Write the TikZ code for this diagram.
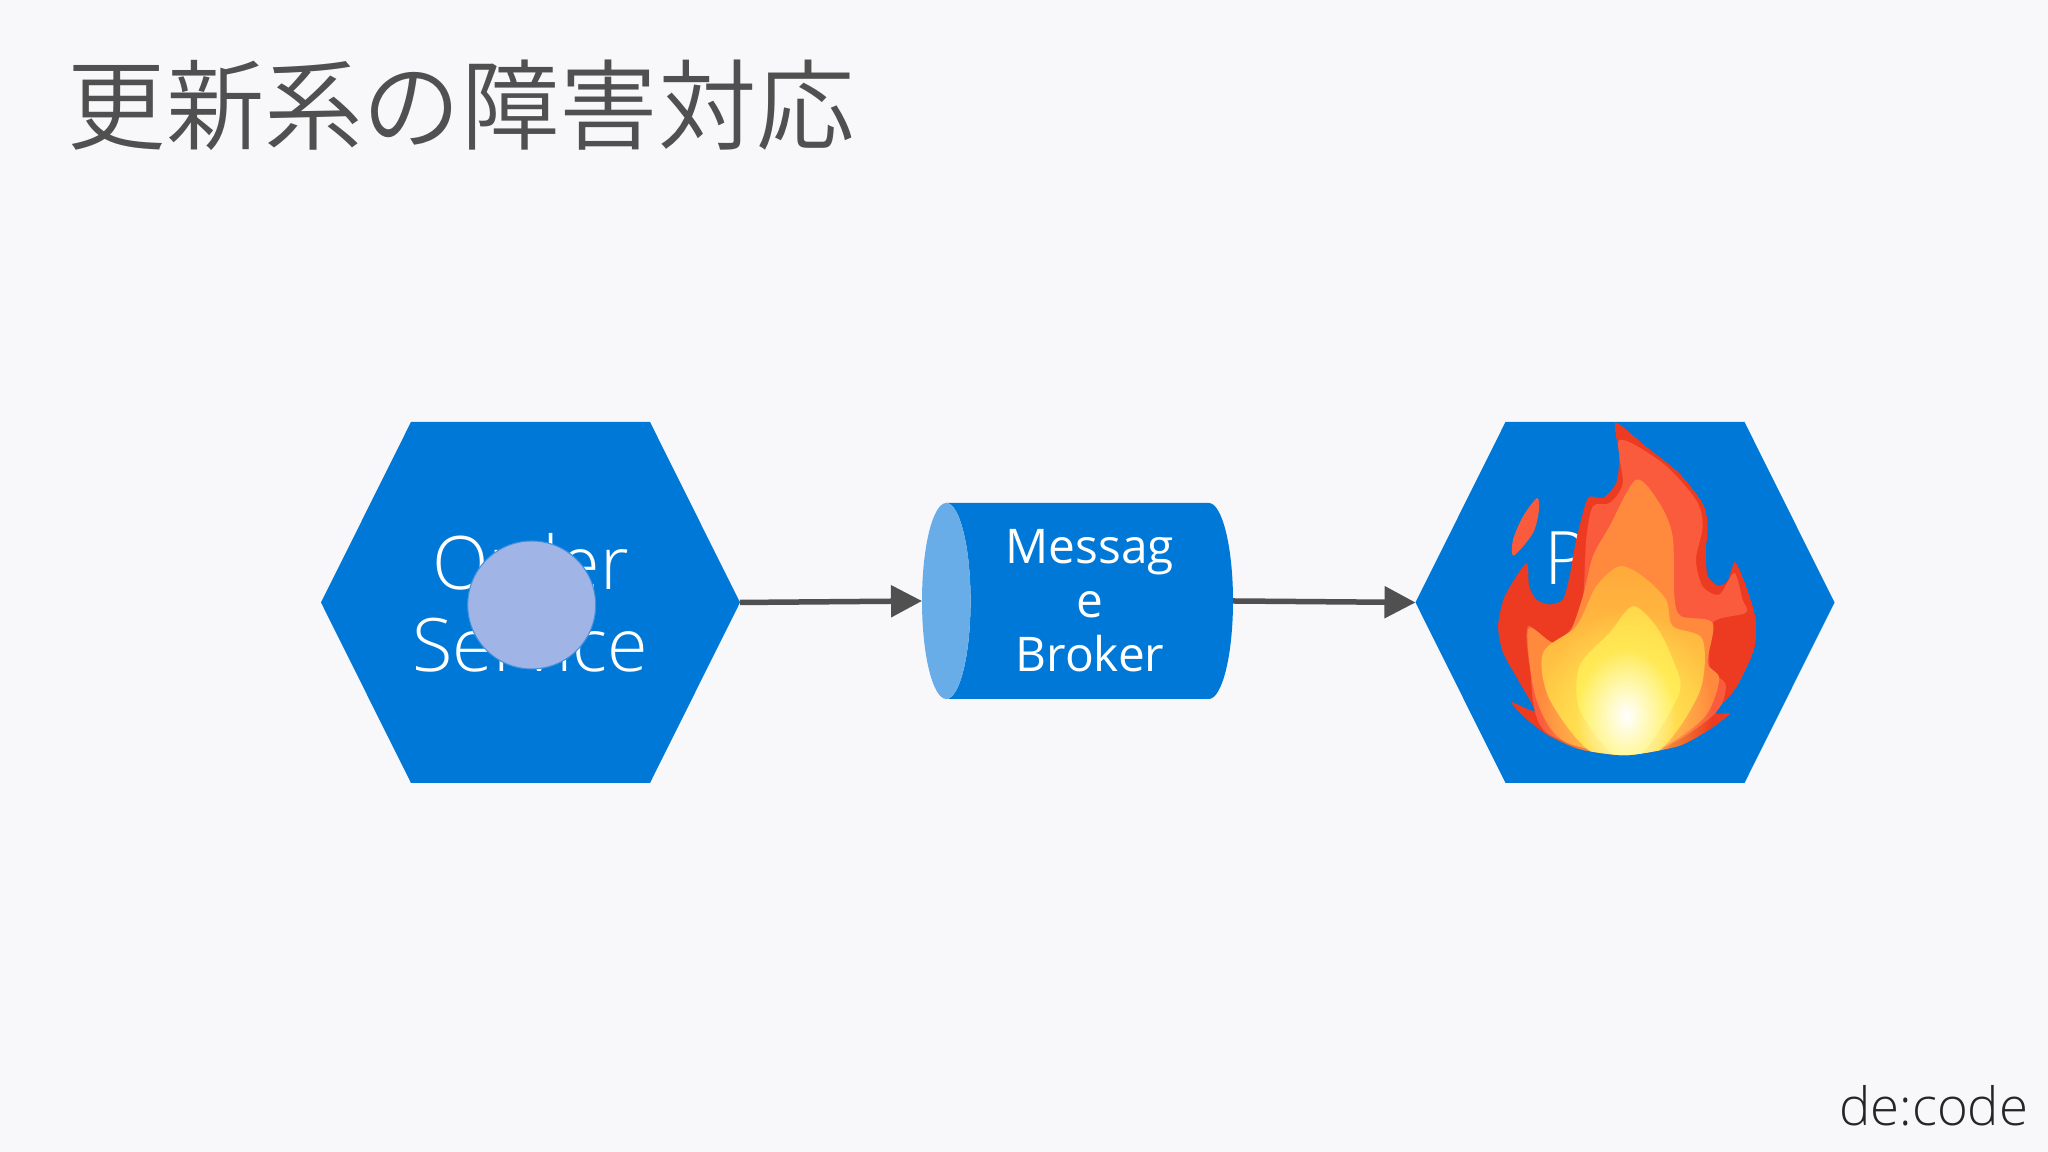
\documentclass[tikz,border=0pt]{standalone}
\usepackage{xcolor}
\usepackage{fontspec}
\usepackage{tikz}
\usetikzlibrary{shapes.geometric,shapes.symbols,arrows.meta,fadings}
\setmainfont{Open Sans Light}
\newfontfamily\opensans{Open Sans}
\newfontfamily\cjk{Noto Sans CJK JP DemiLight}
\definecolor{slide}{HTML}{F8F8FA}
\definecolor{azure}{HTML}{0078D7}
\definecolor{azurelight}{HTML}{69ADE8}
\definecolor{dot}{HTML}{A0B5E6}
\definecolor{ink}{HTML}{505050}
\definecolor{firebase}{HTML}{EC3B20}
\definecolor{firered}{HTML}{FA5B3D}
\definecolor{fireorange}{HTML}{FF8A3E}
\definecolor{fireamber}{HTML}{FFA93B}
\definecolor{fireyellow}{HTML}{FFD84A}
\definecolor{fireglow}{HTML}{FFF45C}
\tikzfading[name=glow, inner color=transparent!0, outer color=transparent!100]
\newcommand{\flameoutline}{plot[smooth cycle,tension=.4] coordinates {(708,68) (800,140) (900,220) (970,310) (985,370) (980,470) (985,530) (1015,558) (1045,545) (1068,487) (1105,570) (1130,660) (1125,750) (1075,860) (1010,940) (1052,942) (1000,985) (900,1040) (740,1068) (600,1050) (500,1005) (430,950) (395,908) (465,935) (420,850) (370,760) (355,680) (375,590) (440,490) (448,560) (470,600) (510,615) (550,600) (570,530) (590,420) (625,295) (670,295) (710,250) (720,170)}}

\begin{document}
\begin{tikzpicture}[
    hexbox/.style={signal, signal to=west and east, signal pointer angle=127, fill=azure, text=white, minimum width=4.19cm, minimum height=3.61cm, inner sep=0pt, outer sep=0pt, align=center, font=\fontsize{21}{23.3}\selectfont},
    broker/.style={cylinder, shape border rotate=180, cylinder uses custom fill, cylinder body fill=azure, cylinder end fill=azurelight, aspect=.34, minimum height=3.11cm, minimum width=1.96cm, inner sep=0pt, outer sep=0pt, text=white, align=center, font=\opensans\fontsize{13.6}{15.4}\selectfont},
    arrow/.style={-{Triangle[length=.31cm,width=.31cm]}, ink, line width=.055cm}
]
\useasboundingbox (0,0) rectangle (20.48,11.52);
\fill[slide] (0,0) rectangle (20.48,11.52);

% Title
\node[anchor=base west, inner sep=0pt, text=ink, font=\cjk\fontsize{28}{30}\selectfont] (title) at (.67,10.09) {更新系の障害対応};

% Services
\node[hexbox] (order) at (5.305,5.495) {Order\\Service};
\node[hexbox] (payment) at (16.25,5.495) {};
\node[anchor=base west, inner sep=0pt, text=white, font=\fontsize{21}{23.3}\selectfont] (plabel) at (15.44,5.67) {P};
\node[circle, fill=dot, draw=azure!60!dot, line width=.3pt, minimum size=1.28cm, inner sep=0pt] (token) at (5.317,5.47) {};

% Queue
\node[broker] (queue) at (10.90,5.51) {Messag\\e\\Broker};

% Arrows
\draw[arrow] (order.east) -- (queue.west);
\draw[arrow] (queue.east) -- (payment.west);

% Fire
\begin{scope}[shift={(13.8,7.52)}, x=.003333cm, y=-.003333cm]
\fill[firered] plot[smooth cycle,tension=.5] coordinates {(472,295) (430,350) (400,420) (402,468) (460,400) (478,330)};
\begin{scope}
\clip \flameoutline;
\fill[firebase] \flameoutline;
\fill[firered] plot[smooth cycle,tension=.5] coordinates {(720,120) (850,190) (950,300) (970,380) (950,480) (970,560) (1020,585) (1065,520) (1090,600) (1100,640) (1000,670) (990,790) (1000,820) (1040,860) (1000,950) (800,1060) (500,1000) (450,800) (445,680) (520,730) (580,680) (610,600) (620,420) (640,320) (690,310) (730,250)};
\fill[fireorange] plot[smooth cycle,tension=.5] coordinates {(770,240) (840,310) (880,410) (885,590) (905,650) (1000,670) (985,790) (1020,840) (970,960) (800,1060) (560,1030) (470,900) (445,690) (520,730) (570,700) (610,590) (640,470) (690,380)};
\shade[top color=fireamber, bottom color=fireyellow] plot[smooth cycle,tension=.5] coordinates {(790,530) (860,600) (880,680) (970,720) (960,880) (830,1060) (640,1060) (510,900) (490,760) (590,680) (650,560) (720,500)};
\shade[top color=fireyellow, bottom color=fireglow] plot[smooth cycle,tension=.5] coordinates {(760,620) (830,680) (880,780) (900,880) (790,1060) (700,1065) (600,930) (600,800) (690,700)};
\fill[fireglow, path fading=glow] (740,930) ellipse [x radius=260, y radius=300];
\fill[white, path fading=glow] (740,950) ellipse [x radius=150, y radius=200];
\end{scope}
\end{scope}

% Brand
\node[anchor=base east, inner sep=0pt, text=black!85, font=\fontsize{15}{17}\selectfont] (brand) at (20.29,.26) {de:code};
\end{tikzpicture}
\end{document}
